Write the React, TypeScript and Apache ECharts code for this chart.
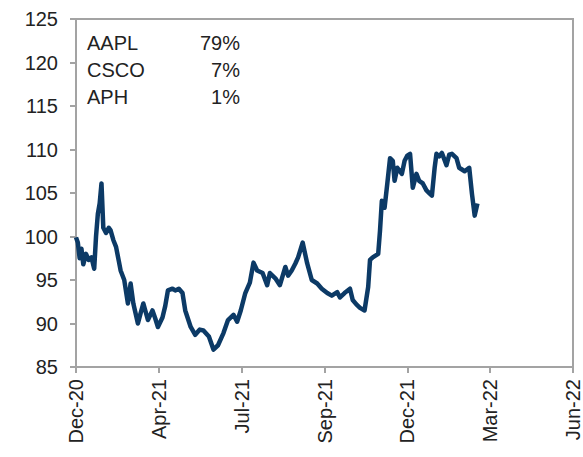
import React, { useEffect, useRef } from "react";
import * as echarts from "echarts";

// x = days since 31-Dec-2020, y = index value
const days: number[] = [
  0, 2, 4, 6, 8, 11, 14, 17, 20, 22, 24, 26, 28, 30, 33, 36, 38, 41, 44, 47, 49, 53, 57, 60, 63, 68,
  71, 74, 79, 84, 87, 90, 95, 98, 101, 106, 109, 113, 117, 120, 126, 131, 136, 140, 146, 151, 156, 162,
  167, 173, 177, 181, 186, 191, 195, 199, 205, 210, 213, 219, 224, 230, 233, 237, 241, 244, 249, 254,
  259, 265, 270, 276, 281, 287, 290, 295, 301, 304, 308, 312, 317, 321, 323, 326, 332, 334, 336, 339,
  342, 345, 348, 350, 353, 358, 361, 364, 367, 370, 374, 377, 381, 385, 388, 391, 394, 396, 399, 402,
  407, 410, 413, 418, 421, 427, 432, 435, 438, 441,
];
const values: number[] = [
  99.9, 99.3, 97.5, 98.6, 96.8, 98.0, 97.3, 97.6, 96.3, 100.0, 102.6, 103.8, 106.1, 101.0, 100.4, 101.0,
  100.7, 99.6, 98.8, 97.2, 96.1, 95.0, 92.3, 94.6, 92.3, 90.0, 91.2, 92.3, 90.4, 91.5, 90.6, 89.6, 90.7,
  92.0, 93.8, 94.0, 93.8, 94.0, 93.5, 91.5, 89.6, 88.7, 89.3, 89.2, 88.5, 87.0, 87.5, 88.9, 90.4, 91.0,
  90.2, 91.5, 93.5, 94.7, 97.0, 96.1, 95.8, 94.4, 95.8, 95.2, 94.4, 96.5, 95.5, 96.1, 96.9, 97.6, 99.3,
  96.9, 95.0, 94.6, 94.0, 93.5, 93.2, 93.6, 93.0, 93.5, 94.0, 92.7, 92.2, 91.8, 91.5, 94.2, 97.3, 97.6,
  98.0, 100.7, 104.1, 103.3, 106.1, 109.0, 108.7, 106.4, 107.9, 107.2, 108.7, 109.3, 109.5, 105.6, 107.2,
  106.4, 106.1, 105.3, 105.0, 104.7, 107.9, 109.5, 109.2, 109.6, 108.2, 109.4, 109.5, 109.0, 107.9, 107.5,
  107.9, 104.9, 102.4, 103.8,
];
const xTickLabels: string[] = ["Dec-20", "Apr-21", "Jul-21", "Sep-21", "Dec-21", "Mar-22", "Jun-22"];
const xTickStep = 91;
const tickers: string[] = ["AAPL", "CSCO", "APH"];
const weights: string[] = ["79%", "7%", "1%"];

export default function App() {
  const ref = useRef<HTMLDivElement>(null);
  useEffect(() => {
    document.body.style.margin = "0";
    if (!ref.current) return;
    const chart = echarts.init(ref.current, undefined, { renderer: "svg" });
    const font = "Liberation Sans, Arial, sans-serif";
    const textColor = "#222";
    const axisColor = "#a3a3a3";
    const legendTexts: any[] = [];
    tickers.forEach((t, i) => {
      legendTexts.push({
        type: "text",
        x: 87,
        y: 33 + i * 27,
        style: { text: t, fontSize: 20, fontFamily: font, fill: textColor, textAlign: "left", textVerticalAlign: "top" },
      });
      legendTexts.push({
        type: "text",
        x: 240,
        y: 33 + i * 27,
        style: { text: weights[i], fontSize: 20, fontFamily: font, fill: textColor, textAlign: "right", textVerticalAlign: "top" },
      });
    });
    chart.setOption({
      animation: false,
      grid: {
        left: 76,
        right: 8,
        top: 19,
        bottom: 90,
        show: true,
        borderColor: axisColor,
        borderWidth: 2,
      },
      xAxis: {
        type: "value",
        min: 0,
        max: xTickStep * (xTickLabels.length - 1),
        interval: xTickStep,
        axisLine: { show: true, lineStyle: { color: axisColor, width: 2 } },
        axisTick: { show: true, length: 6, lineStyle: { color: axisColor, width: 2 } },
        splitLine: { show: false },
        axisLabel: {
          rotate: 90,
          fontSize: 20,
          fontFamily: font,
          color: textColor,
          margin: 12,
          showMinLabel: true,
          showMaxLabel: true,
          formatter: (v: number) => xTickLabels[Math.round(v / xTickStep)] ?? "",
        },
      },
      yAxis: {
        type: "value",
        min: 85,
        max: 125,
        interval: 5,
        axisLine: { show: true, lineStyle: { color: axisColor, width: 2 } },
        axisTick: { show: true, length: 6, lineStyle: { color: axisColor, width: 2 } },
        splitLine: { show: false },
        axisLabel: { fontSize: 20, fontFamily: font, color: textColor, margin: 18 },
      },
      graphic: legendTexts,
      series: [
        {
          type: "line",
          data: days.map((d, i) => [d, values[i]]),
          showSymbol: false,
          symbol: "none",
          lineStyle: { color: "#0c3a66", width: 4.5, join: "round" },
        },
      ],
    });
    return () => chart.dispose();
  }, []);
  return <div ref={ref} style={{ width: 583, height: 457 }} />;
}
